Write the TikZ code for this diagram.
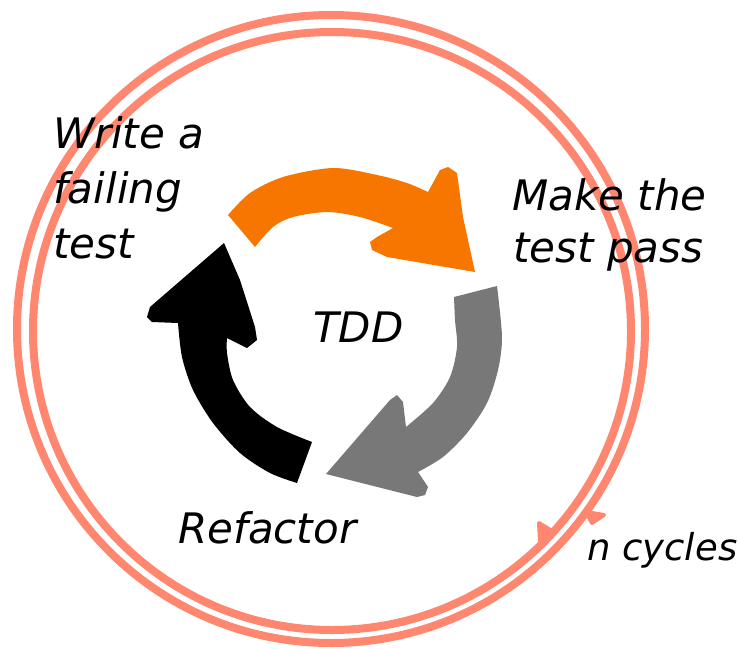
\documentclass[tikz,border=0pt]{standalone}
\usepackage{fontspec}
\setmainfont{DejaVu Sans}
\definecolor{ringcol}{RGB}{255,135,112}
\definecolor{tddorange}{RGB}{247,118,0}
\definecolor{tddgray}{RGB}{120,120,120}
\tikzset{
  hand/.style={font=\fontsize{42}{55}\selectfont\itshape, inner sep=0pt, anchor=base west},
  ring/.style={draw=ringcol, line width=8pt},
  barb/.style={draw=ringcol, fill=ringcol, line width=4pt, line join=round, line cap=round},
}
\begin{document}
\begin{tikzpicture}[x=1pt, y=-1pt]
  % canvas
  \fill[white] (0,0) rectangle (739,648);
  \useasboundingbox (0,0) rectangle (739,648);

  % the double cycle ring
  \coordinate (oc) at (331,329);
  \coordinate (ic) at (332,331);
  \draw[ring] (oc) circle[radius=314pt];
  \draw[ring] (ic) circle[radius=299pt];
  % arrowhead barbs on the ring
  \coordinate (obt) at (604,515);
  \coordinate (ibt) at (539,523);
  \draw[barb] (586,512) -- (obt) -- (592,523) -- cycle;
  \draw[barb] (540,541) -- (ibt) -- (552,531) -- cycle;

  % orange arrow: write a failing test -> make it pass
  \fill[tddorange] (228,215)
    -- plot[smooth] coordinates {(228,215)(250,193)(283,177)(333,168)(377,175)(407,183)(428,192)}
    -- (440,170) -- (448,167) -- (457,173) -- (463,217) -- (475,272)
    -- (387,257) -- (372,250) -- (370,242) -- (377,237) -- (393,228)
    -- plot[smooth] coordinates {(393,228)(360,217)(327,212)(293,217)(273,227)(255,247)}
    -- cycle;

  % grey arrow: make the test pass -> refactor
  \fill[tddgray] (454,297) -- (497,286)
    -- plot[smooth] coordinates {(497,286)(502,337)(498,370)(487,403)(467,433)(443,457)(418,472)}
    -- (428,487) -- (425,495) -- (417,497) -- (326,474)
    -- (390,400) -- (397,395) -- (403,402) -- (406,427)
    -- plot[smooth] coordinates {(406,427)(433,403)(450,377)(457,347)(455,320)(454,297)}
    -- cycle;

  % black arrow: refactor -> write a failing test
  \fill[black] (224,243) -- (240,280) -- (255,327) -- (257,340) -- (247,348) -- (227,338)
    -- plot[smooth] coordinates {(227,338)(227,353)(233,380)(250,407)(277,427)(312,442)}
    -- (297,483)
    -- plot[smooth] coordinates {(297,483)(270,473)(240,453)(213,423)(193,390)(182,357)(178,323)}
    -- (152,322) -- (147,317) -- (150,307) -- cycle;

  % labels
  \node[hand] (write) at (53,148) {Write a};
  \node[hand] (failing) at (53,203) {failing};
  \node[hand] (test) at (53,258) {test};
  \node[hand] (make) at (512,210) {Make the};
  \node[hand] (pass) at (513,262) {test pass};
  \node[hand] (tdd) at (313,342) {TDD};
  \node[hand] (refactor) at (178,543) {Refactor};
  \node[hand, font=\fontsize{37}{45}\selectfont\itshape] (cycles) at (587,560) {n cycles};
\end{tikzpicture}
\end{document}
